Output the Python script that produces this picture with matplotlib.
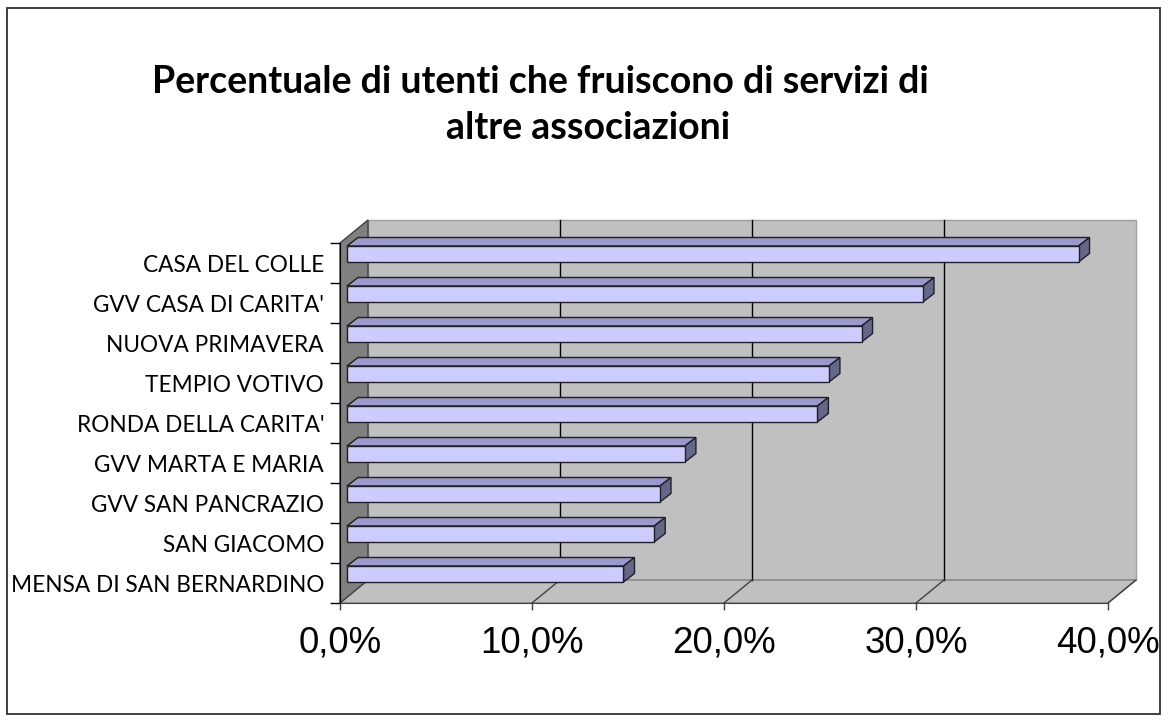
import matplotlib.pyplot as plt
from matplotlib.patches import Polygon, Rectangle
from matplotlib.ticker import FuncFormatter

# dati (dal basso verso l'alto)
categorie = ["MENSA DI SAN BERNARDINO", "SAN GIACOMO", "GVV SAN PANCRAZIO",
             "GVV MARTA E MARIA", "RONDA DELLA CARITA'", "TEMPIO VOTIVO",
             "NUOVA PRIMAVERA", "GVV CASA DI CARITA'", "CASA DEL COLLE"]
percentuali = [14.4, 16.0, 16.3, 17.6, 24.5, 25.1, 26.8, 30.0, 38.1]
tick_x = [0, 10, 20, 30, 40]
titolo_1 = "Percentuale di utenti che fruiscono di servizi di"
titolo_2 = "altre associazioni"

W, H = 1168, 722
fig = plt.figure(figsize=(W / 100, H / 100), dpi=100)
fig.patch.set_facecolor('white')

# asse sul piano frontale del "box" 3D
ax = fig.add_axes([340 / W, (H - 603) / H, 768 / W, 360 / H])
ax.set_xlim(0, 40)
ax.set_ylim(-0.5, len(categorie) - 0.5)
ax.set_facecolor('none')

# conversione pixel -> unità dati
px_x = 40 / 768
px_y = len(categorie) / 360
DX, DY = 28 * px_x, 23 * px_y      # profondità del box
BDX, BDY = 11 * px_x, 8.5 * px_y   # profondità delle barre
ytop = len(categorie) - 0.5

# parete di fondo, pavimento e parete sinistra
ax.add_patch(Rectangle((DX, -0.5 + DY), 40, len(categorie), fc='#C0C0C0',
                       ec='#A0A0A0', lw=1, clip_on=False, zorder=0))
ax.add_patch(Polygon([(0, -0.5), (40, -0.5), (40 + DX, -0.5 + DY), (DX, -0.5 + DY)],
                     closed=True, fc='#C0C0C0', ec='#808080', lw=1, clip_on=False, zorder=0))
ax.add_patch(Polygon([(0, -0.5), (0, ytop), (DX, ytop + DY), (DX, -0.5 + DY)],
                     closed=True, fc='#808080', ec='#404040', lw=1, clip_on=False, zorder=0.5))

# griglia sulla parete e sul pavimento
for t in tick_x[1:]:
    if t < 40:
        ax.plot([t + DX, t + DX], [-0.5 + DY, ytop + DY], color='black', lw=1,
                clip_on=False, zorder=0.6)
    ax.plot([t, t + DX], [-0.5, -0.5 + DY], color='#404040', lw=1,
            clip_on=False, zorder=0.6)

# barre 3D
for i, v in enumerate(percentuali):
    x0 = 7 * px_x
    x1 = x0 + v
    y0 = i + 1 * px_y
    y1 = i + 17 * px_y
    ax.add_patch(Polygon([(x0, y1), (x1, y1), (x1 + BDX, y1 + BDY), (x0 + BDX, y1 + BDY)],
                         closed=True, fc='#9999CC', ec='#202020', lw=1, clip_on=False, zorder=2))
    ax.add_patch(Polygon([(x1, y0), (x1 + BDX, y0 + BDY), (x1 + BDX, y1 + BDY), (x1, y1)],
                         closed=True, fc='#666688', ec='#202020', lw=1, clip_on=False, zorder=2))
    ax.add_patch(Rectangle((x0, y0), v, y1 - y0, fc='#CCCCFF', ec='#202020', lw=1,
                           clip_on=False, zorder=3))

# assi
for s in ['top', 'right']:
    ax.spines[s].set_visible(False)
ax.spines['left'].set_color('black')
ax.spines['bottom'].set_color('#404040')

ax.set_xticks(tick_x)
ax.xaxis.set_major_formatter(FuncFormatter(lambda x, _: f"{x:.1f}%".replace('.', ',')))
ax.tick_params(axis='x', direction='out', length=5, width=1, color='#404040', pad=11,
               labelsize=26.5)
for lab in ax.get_xticklabels():
    lab.set_fontfamily('Liberation Sans')

ax.set_yticks([k - 0.5 for k in range(len(categorie) + 1)])
ax.set_yticklabels([])
ax.set_yticks(range(len(categorie)), minor=True)
ax.set_yticklabels(categorie, minor=True, fontfamily='Lato', fontsize=16.3)
ax.tick_params(axis='y', which='major', direction='out', length=7, width=1, color='black')
ax.tick_params(axis='y', which='minor', length=0, pad=11.5)

# titolo
fig.text(540 / W, 1 - 82 / H, titolo_1, ha='center', va='center',
         fontfamily='Lato', fontweight='bold', fontsize=27)
fig.text(588 / W, 1 - 128 / H, titolo_2, ha='center', va='center',
         fontfamily='Lato', fontweight='bold', fontsize=27)

# cornice
fig.patches.append(Rectangle((7 / W, 8 / H), (1160 - 7) / W, (714 - 8) / H,
                             transform=fig.transFigure, fill=False, ec='#303030', lw=1.3))

fig.savefig('out.png', dpi=100)
